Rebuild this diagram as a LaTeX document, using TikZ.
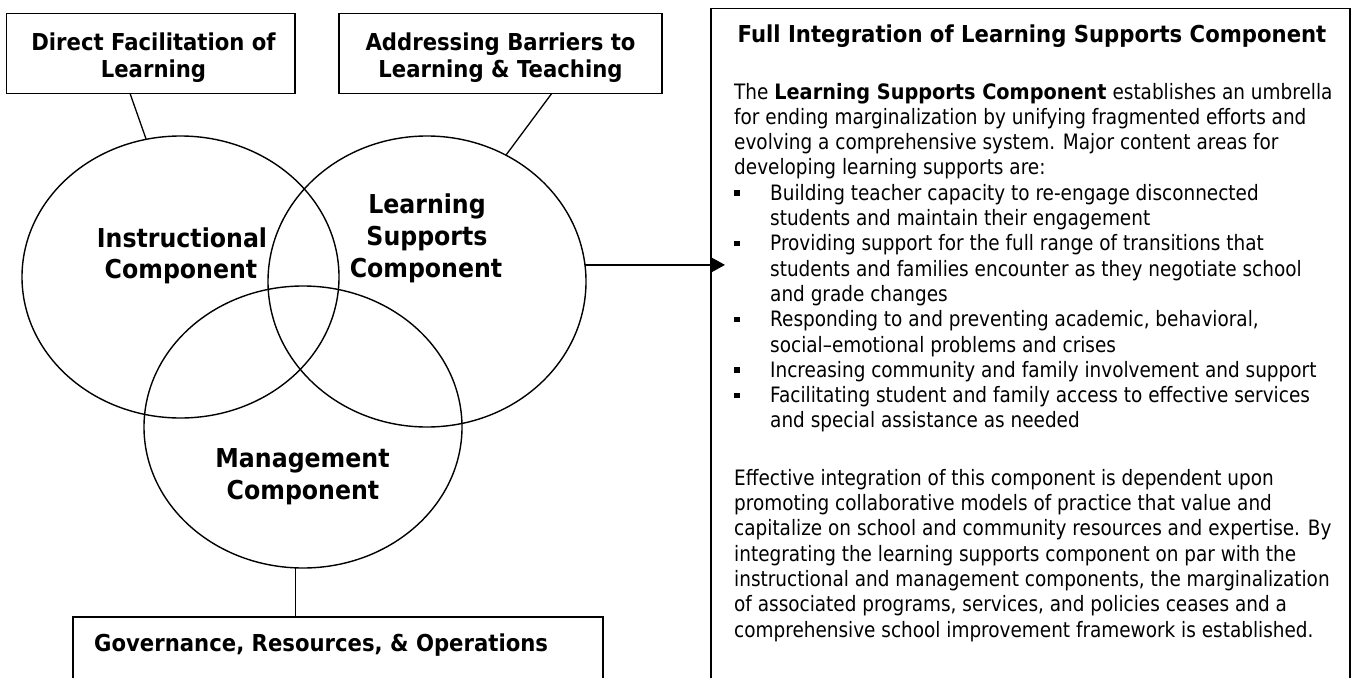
\documentclass[tikz,border=0pt]{standalone}
\usepackage{fontspec}
\setmainfont{DejaVu Sans}[FakeStretch=0.87,BoldFeatures={FakeStretch=0.91}]
\usetikzlibrary{shapes.geometric,arrows.meta,calc}
\tikzset{
  frame/.style={draw,line width=1.4pt,inner sep=0pt,outer sep=0pt,rectangle},
  venn/.style={draw,line width=1.4pt,ellipse,inner sep=0pt,outer sep=0pt},
  conn/.style={line width=1.3pt},
  arr/.style={line width=1.4pt,-{Triangle[length=14pt,width=15pt]}},
  boxtxt/.style={inner sep=0pt,anchor=base,font=\bfseries\fontsize{23.3}{26.5}\selectfont},
  circtxt/.style={inner sep=0pt,anchor=base,font=\bfseries\fontsize{26}{32}\selectfont},
  bodytxt/.style={inner sep=0pt,anchor=base west,font=\fontsize{21.2}{25.3}\selectfont},
  titletxt/.style={inner sep=0pt,anchor=base,font=\bfseries\fontsize{23.3}{28}\selectfont},
}
\newcommand\bul{\llap{\rule[4.5pt]{5.5pt}{5.5pt}\hspace{30.5pt}}}
\begin{document}
\begin{tikzpicture}[x=1pt,y=-1pt]
\useasboundingbox (0,0) rectangle (1356,677);
\fill[white] (0,0) rectangle (1356,677);

% top boxes
\node[frame,minimum width=288.5pt,minimum height=80pt] (b1) at (150.75,53.3) {};
\node[frame,minimum width=323pt,minimum height=80pt] (b2) at (500.5,53.3) {};
\node[boxtxt] (b1a) at (153.5,51) {Direct Facilitation of};
\node[boxtxt] (b1b) at (153.5,77.5) {Learning};
\node[boxtxt] (b2a) at (500.5,51) {Addressing Barriers to};
\node[boxtxt] (b2b) at (500.5,77.5) {Learning \& Teaching};

% venn ellipses
\node[venn,minimum width=317pt,minimum height=282pt] (lc) at (180.5,277) {};
\node[venn,minimum width=318pt,minimum height=291pt] (rc) at (427,281.5) {};
\node[venn,minimum width=318pt,minimum height=282pt] (bc) at (303,427) {};

\node[circtxt] (lca) at (182,247) {Instructional};
\node[circtxt] (lcb) at (181,278) {Component};
\node[circtxt] (rca) at (427,213) {Learning};
\node[circtxt] (rcb) at (427,245) {Supports};
\node[circtxt] (rcc) at (426,277) {Component};
\node[circtxt] (bca) at (302.5,467) {Management};
\node[circtxt] (bcb) at (303,499) {Component};

% bottom box
\node[frame,minimum width=530pt,minimum height=83pt] (gb) at (338,658.5) {};
\node[boxtxt,anchor=base west] (gt) at (94,651) {Governance, Resources, \& Operations};

% right box
\node[frame,minimum width=639pt,minimum height=691.5pt] (rb) at (1030.5,354.25) {};
\node[titletxt] (tt) at (1032,43) {Full Integration of Learning Supports Component};

\node[bodytxt] (p0) at (734,99) {The \textbf{Learning Supports Component} establishes an umbrella};
\node[bodytxt] (p1) at (734,124.3) {for ending marginalization by unifying fragmented efforts and};
\node[bodytxt] (p2) at (734,149.6) {evolving a comprehensive system. Major content areas for};
\node[bodytxt] (p3) at (734,174.9) {developing learning supports are:};
\node[bodytxt] (p4) at (770,200.2) {\bul Building teacher capacity to re-engage disconnected};
\node[bodytxt] (p5) at (770,225.5) {students and maintain their engagement};
\node[bodytxt] (p6) at (770,250.8) {\bul Providing support for the full range of transitions that};
\node[bodytxt] (p7) at (770,276.1) {students and families encounter as they negotiate school};
\node[bodytxt] (p8) at (770,301.4) {and grade changes};
\node[bodytxt] (p9) at (770,326.7) {\bul Responding to and preventing academic, behavioral,};
\node[bodytxt] (p10) at (770,352.0) {social--emotional problems and crises};
\node[bodytxt] (p11) at (770,377.3) {\bul Increasing community and family involvement and support};
\node[bodytxt] (p12) at (770,402.6) {\bul Facilitating student and family access to effective services};
\node[bodytxt] (p13) at (770,427.9) {and special assistance as needed};
\node[bodytxt] (p15) at (734,485) {Effective integration of this component is dependent upon};
\node[bodytxt] (p16) at (734,510.3) {promoting collaborative models of practice that value and};
\node[bodytxt] (p17) at (734,535.6) {capitalize on school and community resources and expertise. By};
\node[bodytxt] (p18) at (734,561) {integrating the learning supports component on par with the};
\node[bodytxt] (p19) at (734,586.3) {instructional and management components, the marginalization};
\node[bodytxt] (p20) at (734,611.6) {of associated programs, services, and policies ceases and a};
\node[bodytxt] (p21) at (734,637) {comprehensive school improvement framework is established.};

% connectors
\draw[conn] ($(b1.south west)!0.428!(b1.south east)$) -- (lc.104.7);
\draw[conn] ($(b2.south west)!0.659!(b2.south east)$) -- (rc.58.6);
\draw[conn] (bc.267.2) -- (bc.267.2 |- gb.north);
\draw[arr] (rc.6.1) -- ($(rc.6.1 -| rb.west)+(14,0)$);
\end{tikzpicture}
\end{document}
